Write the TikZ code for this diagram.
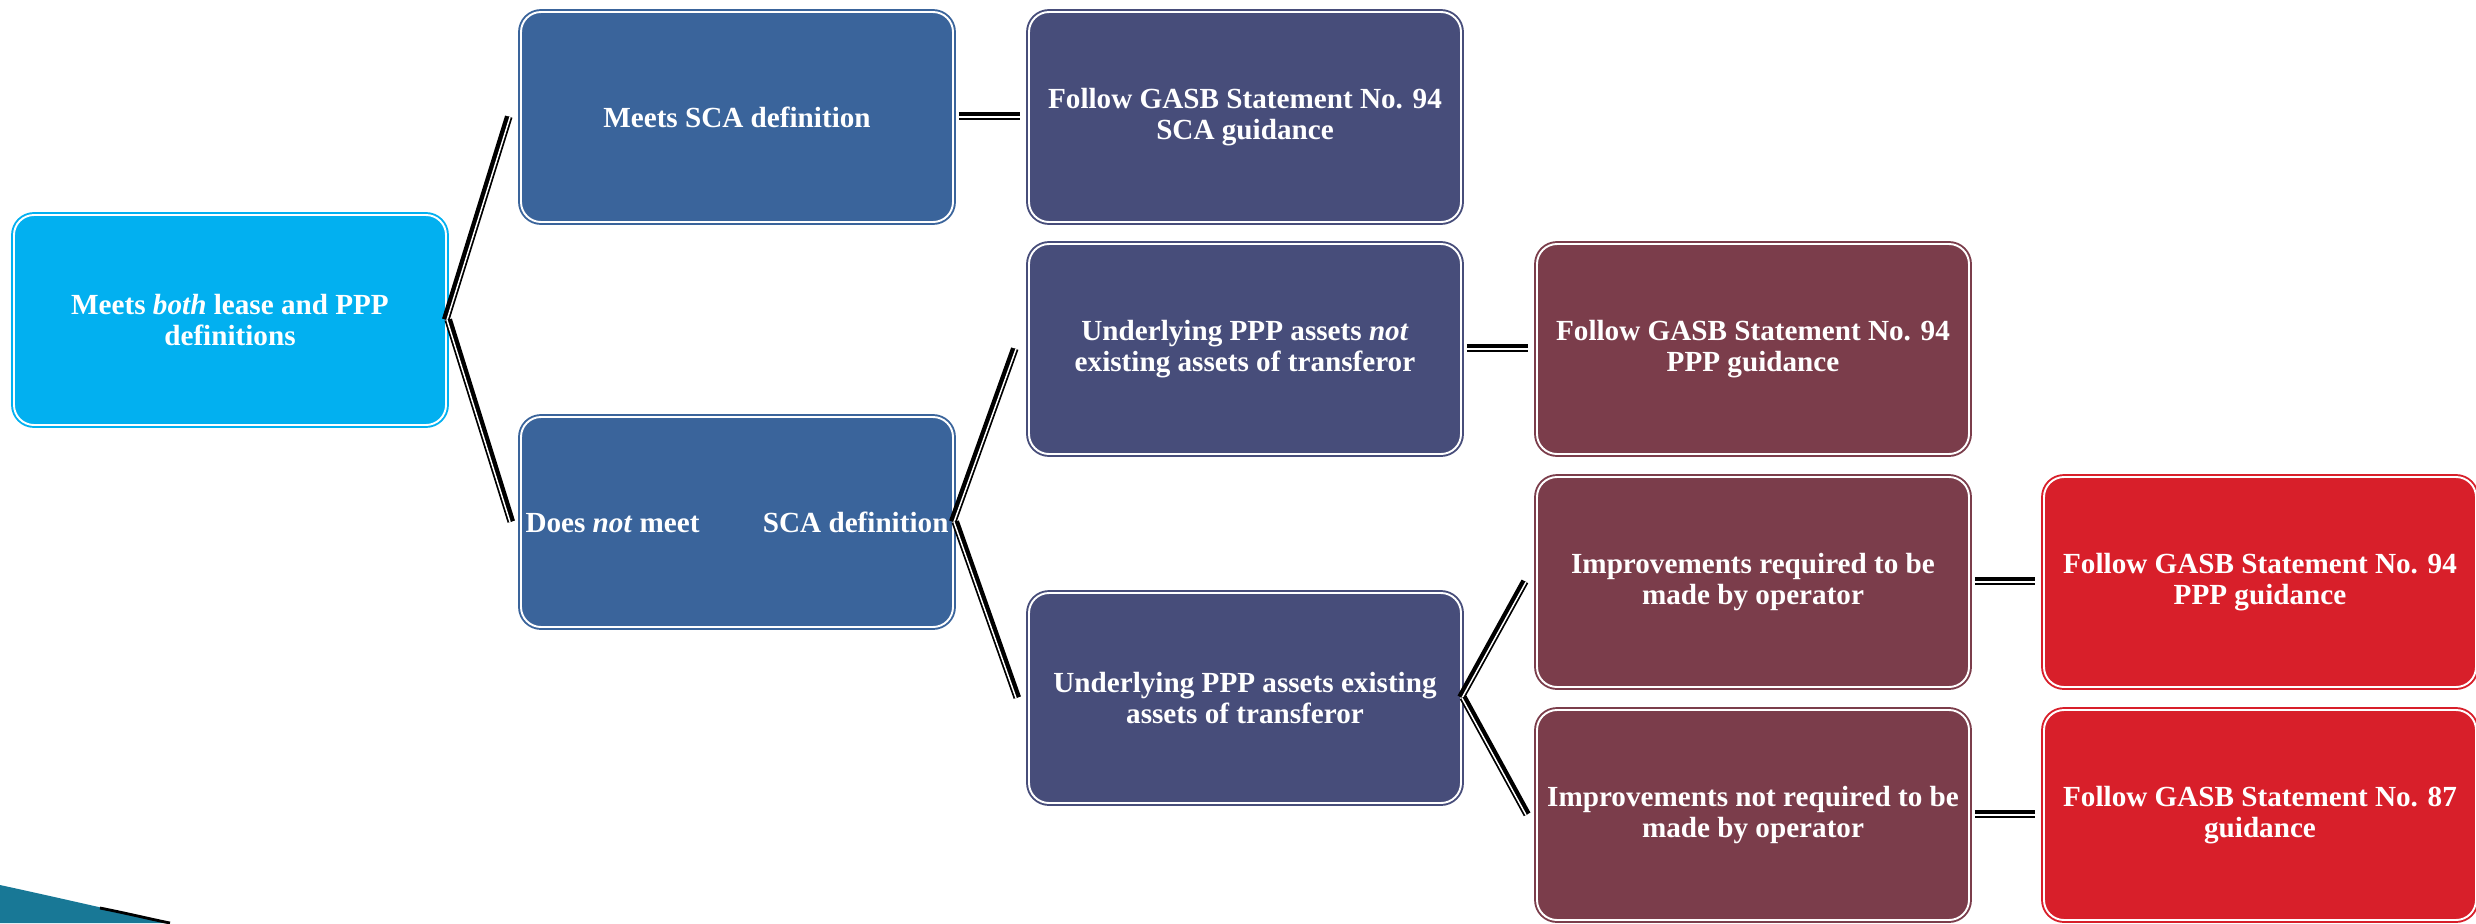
\documentclass[tikz,border=0pt]{standalone}
\usepackage{fontspec}
\setmainfont{Liberation Serif}
\usetikzlibrary{calc}
\usepackage{xcolor}
\definecolor{rootblue}{RGB}{2,176,240}
\definecolor{steelblue}{RGB}{58,100,155}
\definecolor{slateblue}{RGB}{71,77,122}
\definecolor{wine}{RGB}{123,61,75}
\definecolor{alertred}{RGB}{216,31,42}
\definecolor{swoosh}{RGB}{24,120,150}

\begin{document}
\begin{tikzpicture}[
  card/.style={rectangle, rounded corners=0.2cm, minimum width=4.32cm, minimum height=2.1cm,
    inner sep=1pt, draw=#1, fill=#1, line width=0.55pt, double=white, double distance=0.55pt,
    text=white, align=center, font=\fontsize{8.3}{9}\selectfont\bfseries},
  link/.style={line width=0.5pt, double=white, double distance=0.42pt,
    preaction={draw, line width=1.5pt, transform canvas={shift={#1}}}},
  link/.default={(0pt,0.7pt)}
]
\useasboundingbox (0,0) rectangle (24.76,-9.23);

\fill[swoosh] (0,-9.23) -- (0,-8.85) .. controls (0.6,-8.98) and (1.2,-9.12) .. (1.7,-9.23) -- cycle;
\draw[line width=0.8pt] (1.0,-9.08) .. controls (1.3,-9.14) and (1.5,-9.19) .. (1.7,-9.23);

\node[card=rootblue]  (root)   at (2.30,-3.20) {Meets \textit{both} lease and PPP\\definitions};
\node[card=steelblue] (sca)    at (7.37,-1.17) {Meets SCA definition};
\node[card=steelblue] (nosca)  at (7.37,-5.22) {\makebox[4.23cm]{Does \textit{not} meet\hfill SCA definition}};
\node[card=slateblue] (f94sca) at (12.45,-1.17) {Follow GASB Statement No. 94\\SCA guidance};
\node[card=slateblue] (newppp) at (12.45,-3.49) {Underlying PPP assets \textit{not}\\existing assets of transferor};
\node[card=slateblue] (oldppp) at (12.45,-6.98) {Underlying PPP assets existing\\assets of transferor};
\node[card=wine]      (f94ppp) at (17.53,-3.49) {Follow GASB Statement No. 94\\PPP guidance};
\node[card=wine]      (impreq) at (17.53,-5.82) {Improvements required to be\\made by operator};
\node[card=wine]      (impnot) at (17.53,-8.15) {Improvements not required to be\\made by operator};
\node[card=alertred]  (r94)    at (22.60,-5.82) {Follow GASB Statement No. 94\\PPP guidance};
\node[card=alertred]  (r87)    at (22.60,-8.15) {Follow GASB Statement No. 87\\guidance};

\draw[link={(-0.68pt,0.2pt)}] (root.east) -- ([xshift=-0.1cm]sca.west);
\draw[link={(0.68pt,0.2pt)}] (root.east) -- ([xshift=-0.1cm]nosca.west);
\draw[link] ([xshift=0.05cm]sca.east) -- ([xshift=-0.08cm]f94sca.west);
\draw[link={(-0.68pt,0.2pt)}] (nosca.east) -- ([xshift=-0.12cm]newppp.west);
\draw[link={(0.68pt,0.2pt)}] (nosca.east) -- ([xshift=-0.12cm]oldppp.west);
\draw[link] ([xshift=0.05cm]newppp.east) -- ([xshift=-0.08cm]f94ppp.west);
\draw[link={(-0.6pt,0.34pt)}] (oldppp.east) -- ([xshift=-0.1cm]impreq.west);
\draw[link={(0.6pt,0.34pt)}] (oldppp.east) -- ([xshift=-0.1cm]impnot.west);
\draw[link] ([xshift=0.05cm]impreq.east) -- ([xshift=-0.08cm]r94.west);
\draw[link] ([xshift=0.05cm]impnot.east) -- ([xshift=-0.08cm]r87.west);
\end{tikzpicture}
\end{document}
